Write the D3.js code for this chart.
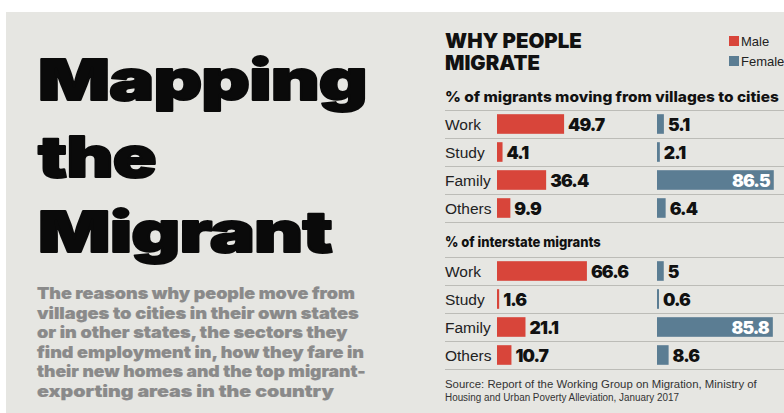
<!DOCTYPE html>
<html>
<head>
<meta charset="utf-8">
<script src="https://cdn.jsdelivr.net/npm/d3@7"></script>
<style>
  html, body { margin: 0; padding: 0; background: #ffffff; }
  svg { display: block; }
</style>
</head>
<body>
<svg id="chart" width="784" height="413"></svg>
<script>
// Reasons for migration, by sex
const categories = ["Work", "Study", "Family", "Others"];
const ruralUrbanMale = [49.7, 4.1, 36.4, 9.9];
const ruralUrbanFemale = [5.1, 2.1, 86.5, 6.4];
const interstateMale = [66.6, 1.6, 21.1, 10.7];
const interstateFemale = [5, 0.6, 85.8, 8.6];
const sectionTitles = ["% of migrants moving from villages to cities", "% of interstate migrants"];
const seriesNames = ["Male", "Female"];

const titleLines = ["Mapping", "the", "Migrant"];
const introLines = [
  "The reasons why people move from",
  "villages to cities in their own states",
  "or in other states, the sectors they",
  "find employment in, how they fare in",
  "their new homes and the top migrant-",
  "exporting areas in the country"
];
const sourceLines = [
  "Source: Report of the Working Group on Migration, Ministry of",
  "Housing and Urban Poverty Alleviation, January 2017"
];

const RED = "#d8453a";
const BLUE = "#5b7d93";
const BG = "#e6e6e2";
const BLACK = "Inter, 'Noto Sans', sans-serif";
const SANS = "'Liberation Sans', Arial, sans-serif";

const svg = d3.select("#chart");

// heavy text helper: black face, optionally thickened with a matching stroke
function heavy(sel, color, sw) {
  sel.attr("font-family", BLACK).attr("font-weight", 900).attr("fill", color);
  if (sw) sel.attr("stroke", color).attr("stroke-width", sw).attr("stroke-linejoin", "round");
  return sel;
}

// place a text at (x, y) and squeeze/stretch it horizontally to width w
function fitText(sel, x, y, w) {
  sel.attr("x", 0).attr("y", 0);
  const n = sel.node().getComputedTextLength();
  sel.attr("transform", `translate(${x},${y}) scale(${w / n},1)`);
  return sel;
}

// page panel
svg.append("rect").attr("x", 6).attr("y", 12).attr("width", 778).attr("height", 401).attr("fill", BG);

// big headline
const titleBase = [99.5, 176.5, 251.5];
const titleWidth = [329, 118, 294];
titleLines.forEach((t, i) => {
  const s = heavy(svg.append("text"), "#0a0a0a", 1.9)
    .attr("font-size", 56).attr("letter-spacing", -0.6).text(t);
  fitText(s, 38, titleBase[i], titleWidth[i]);
});

// intro paragraph
const introWidth = [318, 322, 311, 327, 329, 297];
introLines.forEach((t, i) => {
  const s = heavy(svg.append("text"), "#8a8a8a", 0.2).attr("font-size", 16.5).text(t);
  fitText(s, 37, 299 + i * 19.6, introWidth[i]);
});

// chart heading
fitText(heavy(svg.append("text"), "#111").attr("font-size", 20).text("WHY PEOPLE"), 445, 48, 137);
fitText(heavy(svg.append("text"), "#111").attr("font-size", 20).text("MIGRATE"), 445, 70, 95);

// legend
const legend = svg.append("g");
seriesNames.forEach((name, i) => {
  legend.append("rect").attr("x", 729).attr("y", 36 + i * 20).attr("width", 10).attr("height", 10)
    .attr("fill", i === 0 ? RED : BLUE);
  legend.append("text").attr("x", 741).attr("y", 46 + i * 20)
    .attr("font-family", SANS).attr("font-size", 13).attr("fill", "#222").text(name);
});

// bar scale: percent -> pixels
const x = d3.scaleLinear().domain([0, 100]).range([0, 135]);
const maleX = 497, femaleX = 657;

const sections = [
  { title: sectionTitles[0], top: 110, titleY: 102, titleW: 334, male: ruralUrbanMale, female: ruralUrbanFemale },
  { title: sectionTitles[1], top: 257, titleY: 247, titleW: 156, male: interstateMale, female: interstateFemale }
];

sections.forEach(sec => {
  const g = svg.append("g");
  const rowY = d3.scaleBand().domain(categories).range([sec.top, sec.top + 112]);
  const y = d3.scaleBand().domain(categories).range([sec.top, sec.top + 112]).paddingInner(0.3).paddingOuter(0.15);

  fitText(heavy(g.append("text"), "#111").attr("font-weight", 800).attr("font-size", 14.5).text(sec.title),
    445, sec.titleY, sec.titleW);

  // row separators
  const lines = [sec.top].concat(categories.map(c => rowY(c) + rowY.bandwidth()));
  g.selectAll("line.sep").data(lines).join("line")
    .attr("x1", 445).attr("x2", 784)
    .attr("y1", d => d + 0.5).attr("y2", d => d + 0.5)
    .attr("stroke", "#bcbcb7").attr("stroke-width", 1);

  // category labels
  g.selectAll("text.cat").data(categories).join("text")
    .attr("x", 445).attr("y", c => rowY(c) + rowY.bandwidth() / 2 + 6)
    .attr("font-family", SANS).attr("font-size", 15.5).attr("fill", "#222")
    .text(c => c);

  const rows = categories.map((c, i) => ({ c, m: sec.male[i], f: sec.female[i] }));

  // male bars
  g.selectAll("rect.m").data(rows).join("rect")
    .attr("x", maleX).attr("y", d => y(d.c)).attr("width", d => Math.max(2, x(d.m))).attr("height", y.bandwidth())
    .attr("fill", RED);
  heavy(g.selectAll("text.mv").data(rows).join("text"), "#111")
    .attr("x", d => maleX + Math.max(2, x(d.m)) + 4).attr("y", d => y(d.c) + y.bandwidth() / 2 + 6.5)
    .attr("font-size", 17.5).attr("letter-spacing", -0.9)
    .text(d => d.m);

  // female bars
  g.selectAll("rect.f").data(rows).join("rect")
    .attr("x", femaleX).attr("y", d => y(d.c)).attr("width", d => Math.max(2, x(d.f))).attr("height", y.bandwidth())
    .attr("fill", BLUE);
  g.selectAll("text.fv").data(rows).join("text")
    .each(function (d) {
      const inside = x(d.f) > 40;
      heavy(d3.select(this), inside ? "#ffffff" : "#111")
        .attr("x", inside ? femaleX + x(d.f) - 4 : femaleX + Math.max(2, x(d.f)) + 4)
        .attr("text-anchor", inside ? "end" : "start");
    })
    .attr("y", d => y(d.c) + y.bandwidth() / 2 + 6.5)
    .attr("font-size", 17.5).attr("letter-spacing", -0.9)
    .text(d => d.f);
});

// source note
sourceLines.forEach((t, i) => {
  fitText(svg.append("text")
    .attr("font-family", SANS).attr("font-size", 11.5).attr("fill", "#333")
    .text(t), 445, 388 + i * 13, i === 0 ? 312 : 234);
});
</script>
</body>
</html>
